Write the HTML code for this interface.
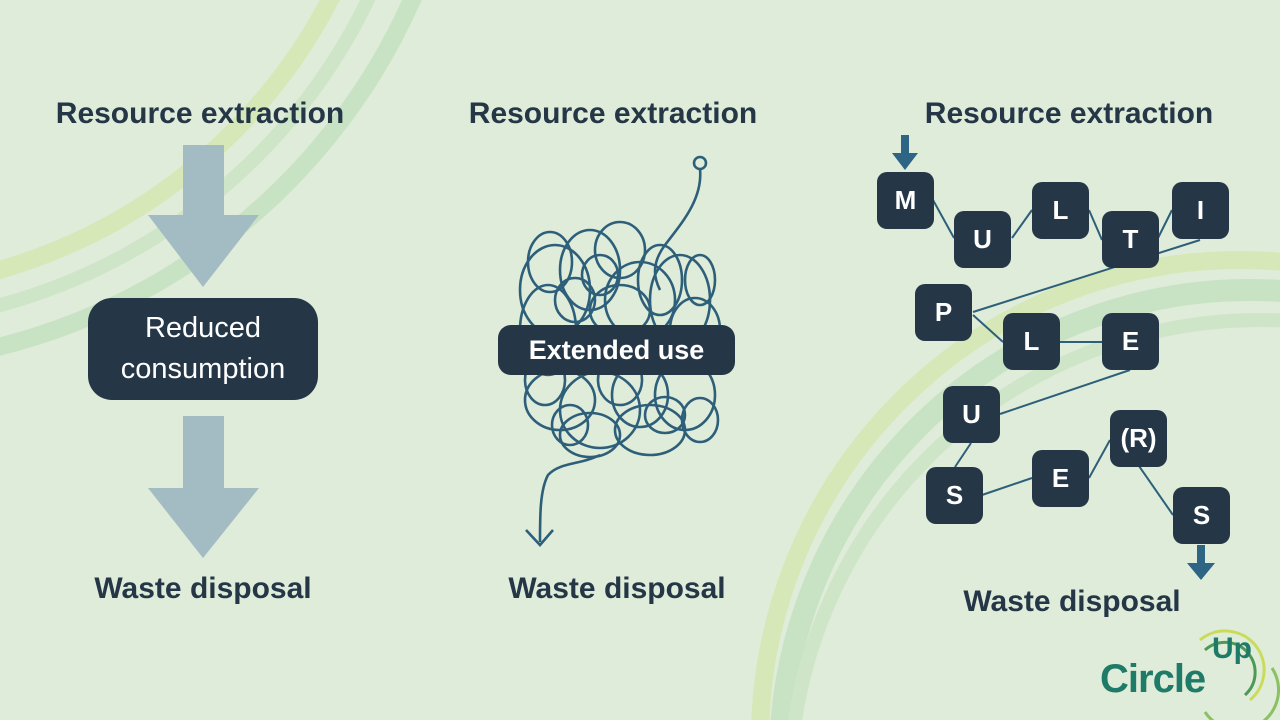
<!DOCTYPE html>
<html><head><meta charset="utf-8"><style>
html,body{margin:0;padding:0;width:1280px;height:720px;overflow:hidden}
body{background:#deecd9;position:relative;font-family:"Liberation Sans",sans-serif}
.t{position:absolute;font-weight:bold;color:#253647;font-size:30px;white-space:nowrap;transform:translateX(-50%);letter-spacing:0px}
.sq{position:absolute;width:57px;height:57px;background:#253647;border-radius:10px;color:#fff;font-weight:bold;font-size:26px;display:flex;align-items:center;justify-content:center}
</style></head><body>
<svg width="1280" height="720" style="position:absolute;left:0;top:0" xmlns="http://www.w3.org/2000/svg">
 <g fill="none">
  <circle cx="-150" cy="-250" r="541" stroke="#d6e8b8" stroke-width="18"/>
  <circle cx="-150" cy="-250" r="575" stroke="#cfe5c8" stroke-width="14"/>
  <circle cx="-150" cy="-250" r="615" stroke="#c8e3c4" stroke-width="18"/>
  <circle cx="1240" cy="740" r="480" stroke="#d6e8b8" stroke-width="18"/>
  <circle cx="1250" cy="760" r="470" stroke="#c8e3c4" stroke-width="22"/>
  <circle cx="1260" cy="790" r="470" stroke="#cfe5c8" stroke-width="14"/>
 </g>
 <polygon points="183,145 224,145 224,215 259,215 203,287 148,215 183,215" fill="#a3bcc4"/>
 <polygon points="183,416 224,416 224,488 259,488 203,558 148,488 183,488" fill="#a3bcc4"/>
 <g fill="none" stroke="#2e5f7a" stroke-width="2.6">
  <circle cx="700" cy="163" r="6"/>
  <path d="M700,169 C703,200 680,225 665,245 C650,265 655,280 660,290"/>
  <ellipse cx="555" cy="290" rx="35" ry="45"/>
  <ellipse cx="590" cy="270" rx="30" ry="40"/>
  <ellipse cx="620" cy="250" rx="25" ry="28"/>
  <ellipse cx="640" cy="300" rx="35" ry="38"/>
  <ellipse cx="680" cy="300" rx="30" ry="45"/>
  <ellipse cx="695" cy="330" rx="25" ry="32"/>
  <ellipse cx="575" cy="300" rx="20" ry="22"/>
  <ellipse cx="548" cy="330" rx="28" ry="45"/>
  <ellipse cx="620" cy="310" rx="30" ry="25"/>
  <ellipse cx="660" cy="280" rx="22" ry="35"/>
  <ellipse cx="600" cy="275" rx="18" ry="20"/>
  <ellipse cx="550" cy="262" rx="22" ry="30"/>
  <ellipse cx="700" cy="280" rx="15" ry="25"/>
  <ellipse cx="560" cy="400" rx="35" ry="30"/>
  <ellipse cx="600" cy="410" rx="40" ry="38"/>
  <ellipse cx="640" cy="395" rx="28" ry="32"/>
  <ellipse cx="685" cy="395" rx="30" ry="35"/>
  <ellipse cx="590" cy="435" rx="30" ry="22"/>
  <ellipse cx="650" cy="430" rx="35" ry="25"/>
  <ellipse cx="545" cy="380" rx="20" ry="25"/>
  <ellipse cx="620" cy="380" rx="22" ry="25"/>
  <ellipse cx="700" cy="420" rx="18" ry="22"/>
  <ellipse cx="570" cy="425" rx="18" ry="20"/>
  <ellipse cx="665" cy="415" rx="20" ry="18"/>
  <path d="M600,455 C580,465 560,462 548,475 C540,490 540,515 540,542"/>
  <path d="M526,530 L540,545 L553,530"/>
 </g>
 <g stroke="#2e5f7a" stroke-width="2" fill="none">
  <line x1="933" y1="200" x2="954" y2="238"/>
  <line x1="1012" y1="238" x2="1032" y2="210"/>
  <line x1="1089" y1="210" x2="1102" y2="240"/>
  <line x1="1158" y1="238" x2="1172" y2="210"/>
  <line x1="1200" y1="240" x2="973" y2="312"/>
  <line x1="973" y1="315" x2="1003" y2="342"/>
  <line x1="1060" y1="342" x2="1102" y2="342"/>
  <line x1="1130" y1="370" x2="1000" y2="414"/>
  <line x1="971" y1="443" x2="955" y2="467"/>
  <line x1="982" y1="495" x2="1032" y2="478"/>
  <line x1="1089" y1="478" x2="1110" y2="440"/>
  <line x1="1139" y1="466" x2="1173" y2="515"/>
 </g>
 <polygon points="901,135 909,135 909,153 918,153 905,170 892,153 901,153" fill="#2e6484"/>
 <polygon points="1197,545 1205,545 1205,563 1215,563 1201,580 1187,563 1197,563" fill="#2e6484"/>
 <g fill="none">
  <path d="M1200,640 A36,36 0 1 1 1250,700" stroke="#c9dc5a" stroke-width="3"/>
  <path d="M1205,650 A30,30 0 1 1 1245,695" stroke="#4e9a55" stroke-width="3"/>
  <path d="M1205,712 A38,38 0 0 0 1272,668" stroke="#8cc063" stroke-width="3"/>
 </g>
</svg>

<div class="t" style="left:200px;top:97px">Resource extraction</div>
<div class="t" style="left:613px;top:97px">Resource extraction</div>
<div class="t" style="left:1069px;top:97px">Resource extraction</div>
<div class="t" style="left:203px;top:572px">Waste disposal</div>
<div class="t" style="left:617px;top:572px">Waste disposal</div>
<div class="t" style="left:1072px;top:585px">Waste disposal</div>

<div style="position:absolute;left:88px;top:298px;width:230px;height:102px;background:#253647;border-radius:24px;color:#fff;font-size:29px;text-align:center;line-height:41px;display:flex;align-items:center;justify-content:center">Reduced<br>consumption</div>
<div style="position:absolute;left:498px;top:325px;width:237px;height:50px;background:#253647;border-radius:13px;color:#fff;font-size:27px;font-weight:bold;display:flex;align-items:center;justify-content:center">Extended use</div>

<div class="sq" style="left:877px;top:172px">M</div>
<div class="sq" style="left:954px;top:211px">U</div>
<div class="sq" style="left:1032px;top:182px">L</div>
<div class="sq" style="left:1102px;top:211px">T</div>
<div class="sq" style="left:1172px;top:182px">I</div>
<div class="sq" style="left:915px;top:284px">P</div>
<div class="sq" style="left:1003px;top:313px">L</div>
<div class="sq" style="left:1102px;top:313px">E</div>
<div class="sq" style="left:943px;top:386px">U</div>
<div class="sq" style="left:926px;top:467px">S</div>
<div class="sq" style="left:1032px;top:450px">E</div>
<div class="sq" style="left:1110px;top:410px">(R)</div>
<div class="sq" style="left:1173px;top:487px">S</div>

<div style="position:absolute;left:1100px;top:656px;color:#1f7a68;font-weight:bold;font-size:40px;line-height:46px;letter-spacing:-1px">Circle</div>
<div style="position:absolute;left:1212px;top:632px;color:#1f7a68;font-weight:bold;font-size:30px;line-height:34px">Up</div>
</body></html>
